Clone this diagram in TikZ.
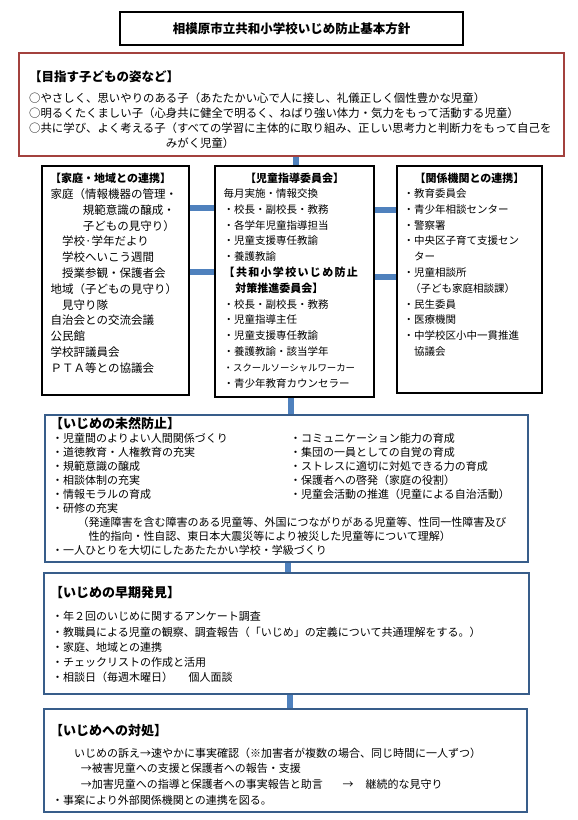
\documentclass[tikz,border=0pt]{standalone}
\usepackage{fontspec}
\setmainfont{Noto Sans CJK JP}
\usetikzlibrary{positioning,backgrounds}

\definecolor{aimred}{RGB}{163,65,62}
\definecolor{linkblue}{RGB}{79,129,189}
\definecolor{stepblue}{RGB}{56,93,138}

\begin{document}
\begin{tikzpicture}[
    x=1pt, y=-1pt,
    box/.style={
        rectangle,
        draw=black,
        line width=1.8pt,
        inner sep=0pt
    },
    aimbox/.style={
        rectangle,
        draw=aimred,
        line width=1.6pt,
        inner sep=0pt
    },
    stepbox/.style={
        rectangle,
        draw=stepblue,
        line width=1.8pt,
        inner sep=0pt
    },
    head/.style={
        anchor=north west,
        inner sep=0pt,
        font=\bfseries\fontsize{13}{16}\selectfont
    },
    smallhead/.style={
        anchor=north,
        inner sep=0pt,
        font=\bfseries\fontsize{11}{15}\selectfont
    },
    body/.style={
        anchor=north west,
        inner sep=0pt,
        align=left
    },
    link/.style={
        draw=linkblue,
        line width=6pt
    }
]
\useasboundingbox (0,0) rectangle (578,820);

% Title
\node[box, minimum width=343pt, minimum height=33pt,
      font=\bfseries\fontsize{12.5}{15}\selectfont] (title) at (291.5,28.5)
    {相模原市立共和小学校いじめ防止基本方針};

% Aim
\node[aimbox, minimum width=545pt, minimum height=103pt] (aim) at (291.5,104.5) {};
\node[head, font=\bfseries\fontsize{12.5}{15}\selectfont] (aimhead) at (29,70.5) {【目指す子どもの姿など】};
\node[body, font=\fontsize{11.4}{15}\selectfont] (aimtext) at (29,92.5) {%
○やさしく、思いやりのある子（あたたかい心で人に接し、礼儀正しく個性豊かな児童）\\
○明るくたくましい子（心身共に健全で明るく、ねばり強い体力・気力をもって活動する児童）\\
○共に学び、よく考える子（すべての学習に主体的に取り組み、正しい思考力と判断力をもって自己を\\
\hspace*{12em}みがく児童）};

% Three partners
\node[box, minimum width=147pt, minimum height=229pt] (home) at (115.5,280.5) {};
\node[box, minimum width=159pt, minimum height=231pt] (guide) at (294.5,281.5) {};
\node[box, minimum width=145pt, minimum height=227pt] (agency) at (469.5,279.5) {};

\node[smallhead, anchor=north west] (homehead) at (50,172.5) {【家庭・地域との連携】};
\node[body, font=\fontsize{11.5}{15.8}\selectfont] (hometext) at (50.5,188.5) {%
家庭（情報機器の管理・\\
\hspace*{2.8em}規範意識の醸成・\\
\hspace*{2.8em}子どもの見守り）\\
\hspace*{1em}学校·学年だより\\
\hspace*{1em}学校へいこう週間\\
\hspace*{1em}授業参観・保護者会\\
地域（子どもの見守り）\\
\hspace*{1em}見守り隊\\
自治会との交流会議\\
公民館\\
学校評議員会\\
ＰＴＡ等との協議会};

\node[smallhead] (guidehead) at (294.5,172.5) {【児童指導委員会】};
\node[body, font=\fontsize{10.5}{15.8}\selectfont] (guidetext) at (223.5,188.5) {%
毎月実施・情報交換\\
・校長・副校長・教務\\
・各学年児童指導担当\\
・児童支援専任教諭\\
・養護教諭\\
{\bfseries\fontsize{11}{15.8}\selectfont\addfontfeature{LetterSpace=12}【共和小学校いじめ防止}\\
\hspace*{1.1em}{\bfseries\fontsize{11}{15.8}\selectfont 対策推進委員会】}\\
・校長・副校長・教務\\
・児童指導主任\\
・児童支援専任教諭\\
・養護教諭・該当学年\\
{\fontsize{9.4}{15.8}\selectfont ・スクールソーシャルワーカー}\\
・青少年教育カウンセラー};

\node[smallhead] (agencyhead) at (469.5,172.5) {【関係機関との連携】};
\node[body, font=\fontsize{10.5}{15.8}\selectfont] (agencytext) at (403.5,188.5) {%
・教育委員会\\
・青少年相談センター\\
・警察署\\
・中央区子育て支援セン\\
\hspace*{1em}ター\\
・児童相談所\\
\hspace*{0.6em}（子ども家庭相談課）\\
・民生委員\\
・医療機関\\
・中学校区小中一貫推進\\
\hspace*{1em}協議会};

% Prevention
\node[stepbox, minimum width=483pt, minimum height=147pt] (prevent) at (286.5,488.5) {};
\node[head] (preventhead) at (50,417.5) {【いじめの未然防止】};
\node[body, font=\fontsize{11}{14}\selectfont] (preventleft) at (52,433.5) {%
・児童間のよりよい人間関係づくり\\
・道徳教育・人権教育の充実\\
・規範意識の醸成\\
・相談体制の充実\\
・情報モラルの育成\\
・研修の充実\\
\hspace*{2.3em}（発達障害を含む障害のある児童等、外国につながりがある児童等、性同一性障害及び\\
\hspace*{3.3em}性的指向・性自認、東日本大震災等により被災した児童等について理解）\\
・一人ひとりを大切にしたあたたかい学校・学級づくり};
\node[body, font=\fontsize{11}{14}\selectfont] (preventright) at (290,433.5) {%
・コミュニケーション能力の育成\\
・集団の一員としての自覚の育成\\
・ストレスに適切に対処できる力の育成\\
・保護者への啓発（家庭の役割）\\
・児童会活動の推進（児童による自治活動）};

% Early detection
\node[stepbox, minimum width=485pt, minimum height=121pt] (detect) at (286.5,633.5) {};
\node[head] (detecthead) at (50,586.5) {【いじめの早期発見】};
\node[body, font=\fontsize{11}{15.25}\selectfont] (detecttext) at (52,611.5) {%
・年２回のいじめに関するアンケート調査\\
・教職員による児童の観察、調査報告（「いじめ」の定義について共通理解をする。）\\
・家庭、地域との連携\\
・チェックリストの作成と活用\\
・相談日（毎週木曜日）\hspace{1.4em}個人面談};

% Response
\node[stepbox, minimum width=483pt, minimum height=103pt] (respond) at (285.5,760.5) {};
\node[head] (respondhead) at (50,724.5) {【いじめへの対処】};
\node[body, font=\fontsize{11}{15.7}\selectfont] (respondtext) at (52,747.5) {%
\hspace*{2em}いじめの訴え→速やかに事実確認（※加害者が複数の場合、同じ時間に一人ずつ）\\
\hspace*{2.6em}→被害児童への支援と保護者への報告・支援\\
\hspace*{2.6em}→加害児童への指導と保護者への事実報告と助言\hspace{1.8em}→\hspace{1.1em}継続的な見守り\\
・事案により外部関係機関との連携を図る。};

% Connections
\begin{scope}[on background layer]
\draw[link] ([xshift=4.5pt]aim.south) -- ([xshift=1.5pt]guide.north);
\draw[link] ([yshift=-43pt]home.north east) -- ([yshift=-43pt]guide.north west);
\draw[link] ([yshift=-107pt]home.north east) -- ([yshift=-107pt]guide.north west);
\draw[link] ([yshift=-45pt]guide.north east) -- ([yshift=-45pt]agency.north west);
\draw[link] ([yshift=-112pt]guide.north east) -- ([yshift=-112pt]agency.north west);
\draw[link] ([xshift=-4pt]guide.south) -- ([xshift=4pt]prevent.north);
\draw[link] ([xshift=1.5pt]prevent.south) -- ([xshift=1.5pt]detect.north);
\draw[link] ([xshift=3.5pt]detect.south) -- ([xshift=4.5pt]respond.north);
\end{scope}

\end{tikzpicture}
\end{document}
